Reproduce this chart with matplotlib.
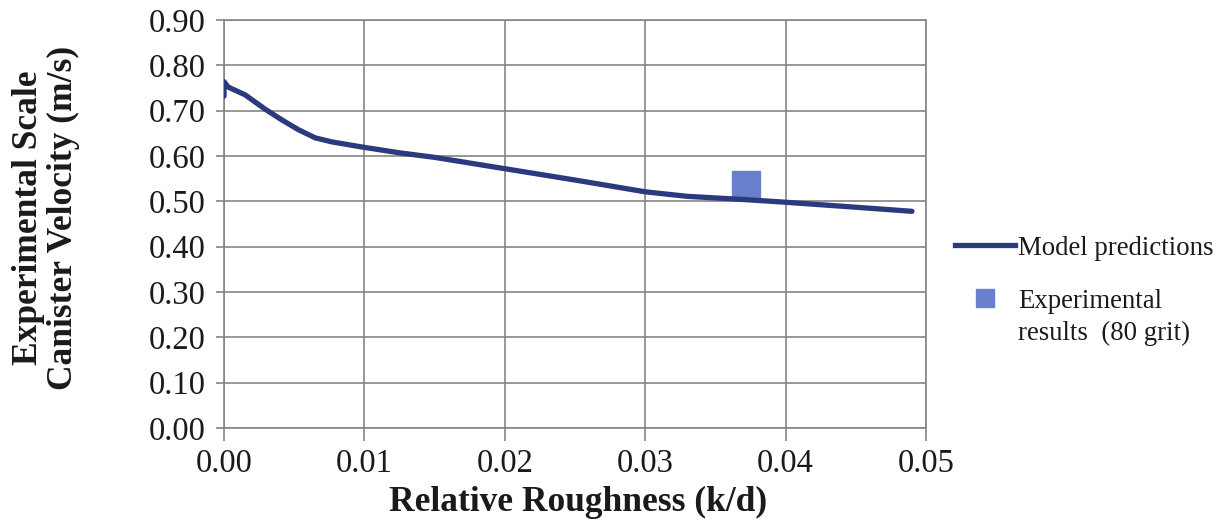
import matplotlib
matplotlib.use("Agg")
import matplotlib.pyplot as plt
from matplotlib.lines import Line2D
from matplotlib.legend_handler import HandlerLine2D

# Data
roughness = [0.0, 0.0, 0.0003, 0.0015, 0.0029, 0.0041, 0.0053, 0.0065, 0.0077,
             0.010, 0.0125, 0.015, 0.020, 0.025, 0.030, 0.033, 0.037, 0.040,
             0.045, 0.049]
model_velocity = [0.732, 0.764, 0.752, 0.735, 0.704, 0.680, 0.658, 0.640, 0.631,
                  0.619, 0.607, 0.597, 0.572, 0.547, 0.521, 0.511, 0.504,
                  0.498, 0.487, 0.478]
exp_roughness = [0.0372]
exp_velocity = [0.537]

xticks = [0.00, 0.01, 0.02, 0.03, 0.04, 0.05]
yticks = [0.0, 0.1, 0.2, 0.3, 0.4, 0.5, 0.6, 0.7, 0.8, 0.9]

plt.rcParams['font.family'] = ['Liberation Serif', 'DejaVu Serif']

line_color = '#2b3a7e'
marker_color = '#6b80cc'
grid_color = '#858585'
text_color = '#1a1a1a'

fig = plt.figure(figsize=(12.24, 5.31), dpi=100)
ax = fig.add_axes([224 / 1224, 1 - 428 / 531, (926 - 224) / 1224, (428 - 20) / 531])

ax.plot(roughness, model_velocity, color=line_color, lw=3.8,
        solid_capstyle='round', solid_joinstyle='round', zorder=3)
ax.plot(exp_roughness, exp_velocity, linestyle='none', marker='s',
        markersize=19.5, color=marker_color, zorder=2)

ax.set_xlim(0, 0.05)
ax.set_ylim(0, 0.9)
ax.set_xticks(xticks)
ax.set_yticks(yticks)
ax.set_xticklabels([f"{v:.2f}" for v in xticks])
ax.set_yticklabels([f"{v:.2f}" for v in yticks])
ax.grid(True, color=grid_color, lw=1.2)
ax.set_axisbelow(True)
for s in ax.spines.values():
    s.set_color(grid_color)
    s.set_linewidth(1.2)
ax.tick_params(axis='both', labelsize=23.5, color=grid_color, width=1.2,
               direction='out', labelcolor=text_color)
ax.tick_params(axis='x', length=9, pad=6)
ax.tick_params(axis='y', length=6, pad=7)

ax.set_xlabel('Relative Roughness (k/d)', fontsize=25.5, fontweight='bold',
              color=text_color)
ax.xaxis.set_label_coords(0.505, -0.142)
ax.set_ylabel('Experimental Scale\nCanister Velocity (m/s)', fontsize=25.5,
              fontweight='bold', color=text_color, linespacing=1.1)
ax.yaxis.set_label_coords(-0.205, 0.515)


class TopLineMarkerHandler(HandlerLine2D):
    """Place the marker next to the first line of a two-line label."""
    def create_artists(self, legend, orig_handle, xdescent, ydescent, width,
                       height, fontsize, trans):
        artists = super().create_artists(legend, orig_handle, xdescent, ydescent,
                                         width, height, fontsize, trans)
        for a in artists:
            a.set_ydata([y + 0.75 * fontsize for y in a.get_ydata()])
        return artists


line_handle = Line2D([], [], color=line_color, lw=3.8)
marker_handle = Line2D([], [], linestyle='none', marker='s', markersize=13,
                       color=marker_color)
labels = ['Model predictions', 'Experimental\nresults  (80 grit)']
leg = fig.legend([line_handle, marker_handle], labels, loc='center left',
                 bbox_to_anchor=(955 / 1224, 1 - 291 / 531), frameon=False,
                 fontsize=19.3, handlelength=2.25, handletextpad=0.1,
                 borderpad=0, borderaxespad=0, labelspacing=1.05,
                 handler_map={marker_handle: TopLineMarkerHandler()})
for t in leg.get_texts():
    t.set_color(text_color)
    t.set_linespacing(1.4)

fig.savefig('out.png', dpi=100)
